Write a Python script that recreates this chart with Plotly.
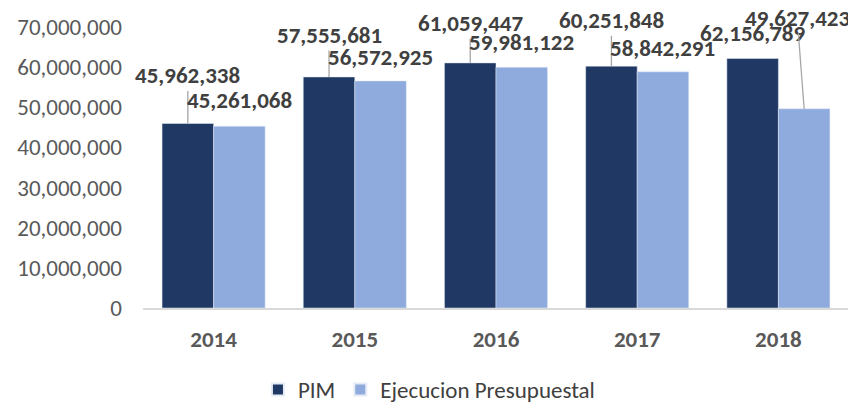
import plotly.graph_objects as go

years = ["2014", "2015", "2016", "2017", "2018"]
pim = [45962338, 57555681, 61059447, 60251848, 62156789]
ejec = [45261068, 56572925, 59981122, 58842291, 49627423]
series_names = ["PIM", "Ejecucion Presupuestal"]
y_ticks = [0, 10000000, 20000000, 30000000, 40000000, 50000000, 60000000, 70000000]

# label placement offsets (pixels) and whether a leader line is drawn
pim_off = [(0, -48), (0, -42), (0, -40), (0, -46), (0, -25)]
pim_line = [True, True, True, True, False]
ejec_off = [(0, -26), (0, -24), (0, -25), (0, -24), (-7, -91)]
ejec_line = [False, False, False, False, True]

C_PIM = "#203864"
C_EJ = "#8FAADC"
FONT = "Carlito, Lato, sans-serif"

fig = go.Figure()
fig.add_bar(x=years, y=pim, name=series_names[0], marker_color=C_PIM)
fig.add_bar(x=years, y=ejec, name=series_names[1], marker_color=C_EJ)

# page body has an 8px margin, so the figure is a bit smaller than the window
W, H = 848, 396
L, R, T, B = 135, 7, 19, 96
plot_w = W - L - R
cat_w = plot_w / len(years)
bargap = 0.27
half = cat_w * (1 - bargap) / 4

anns = []
for vals, offs, lines, sh in [(pim, pim_off, pim_line, -half), (ejec, ejec_off, ejec_line, half)]:
    for i, (v, (ax, ay), ln) in enumerate(zip(vals, offs, lines)):
        anns.append(dict(
            x=i, y=v, xshift=sh, text=f"{v:,}", showarrow=True,
            ax=ax, ay=ay, arrowhead=0, arrowwidth=1.3, standoff=0,
            arrowcolor="#A6A6A6" if ln else "rgba(0,0,0,0)",
            font=dict(family=FONT, size=23, color="#404040", weight="bold"),
        ))

fig.update_layout(
    width=W, height=H,
    margin=dict(l=L, r=R, t=T, b=B, autoexpand=False),
    paper_bgcolor="white", plot_bgcolor="white",
    barmode="group", bargap=bargap, bargroupgap=0,
    font=dict(family=FONT),
    annotations=anns,
    showlegend=True,
    legend=dict(orientation="h", x=0.405, xanchor="center", y=-0.29, yanchor="middle",
                font=dict(family=FONT, size=23, color="#404040"), itemsizing="constant"),
    xaxis=dict(type="category", range=[-0.5, len(years) - 0.5], showline=True,
               linecolor="#D9D9D9", linewidth=1.5, ticks="", automargin=False,
               tickfont=dict(family=FONT, size=23, color="#595959", weight="bold"),
               ticklabelstandoff=10),
    yaxis=dict(range=[0, 70000000], tickvals=y_ticks, tickformat=",d", showgrid=False,
               zeroline=False, showline=False, automargin=False,
               tickfont=dict(family=FONT, size=23, color="#595959"),
               ticklabelstandoff=20),
)

fig.write_html("out.html")
